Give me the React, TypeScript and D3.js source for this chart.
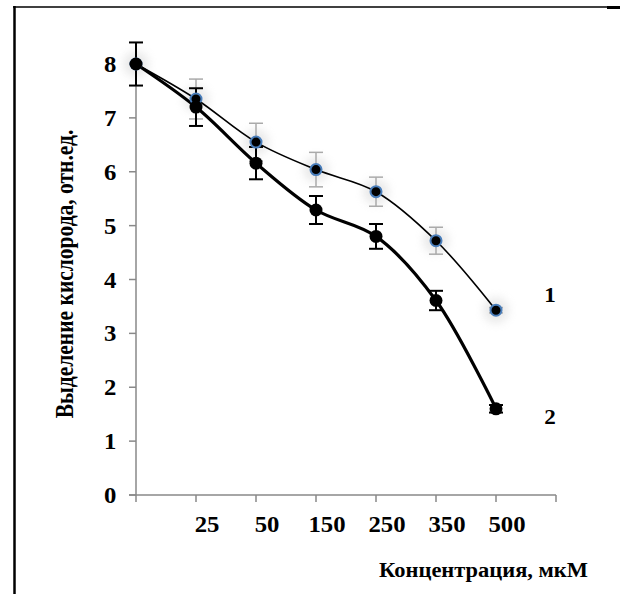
import * as d3 from 'd3';
import React from 'react';

const categories = ['', '25', '50', '150', '250', '350', '500'];
const series1 = [8, 7.35, 6.55, 6.04, 5.63, 4.72, 3.43];
const series1Err = [0, 0.37, 0.35, 0.32, 0.27, 0.25, 0.05];
const series2 = [8, 7.2, 6.16, 5.29, 4.8, 3.61, 1.6];
const series2Err = [0.4, 0.35, 0.3, 0.26, 0.23, 0.18, 0.07];
const yTicks = [0, 1, 2, 3, 4, 5, 6, 7, 8];

export default function App() {
  const width = 620;
  const height = 594;
  const x0 = 136;
  const step = 60;
  const font = '"Liberation Serif", "Times New Roman", serif';

  const xScale = d3.scaleLinear().domain([0, 7]).range([x0, x0 + step * 7]);
  const yScale = d3.scaleLinear().domain([0, 8]).range([495, 64]);

  const line = d3
    .line<number>()
    .x((d, i) => xScale(i))
    .y((d) => yScale(d))
    .curve(d3.curveCatmullRom.alpha(0.5));

  // the source picture is a bit stretched horizontally
  const sx = 1.1;

  return (
    <svg
      width={width}
      height={height}
      style={{ position: 'absolute', left: 0, top: 0, background: '#fff' }}
    >
      <defs>
        <filter id="glow" x="-100%" y="-100%" width="300%" height="300%">
          <feGaussianBlur stdDeviation="4" />
        </filter>
      </defs>
      {/* frame */}
      <line x1={13} y1={7} x2={608} y2={7} stroke="#000" strokeWidth={1.5} />
      <line x1={607} y1={7.5} x2={620} y2={7.5} stroke="#000" strokeWidth={3} />
      <line x1={14.5} y1={6} x2={14.5} y2={594} stroke="#000" strokeWidth={2.5} />

      {/* axes */}
      <g stroke="#898989" strokeWidth={1.5}>
        <line x1={x0} y1={yScale(0)} x2={x0} y2={yScale(8.4)} />
        <line x1={x0 - 7} y1={yScale(0)} x2={xScale(7)} y2={yScale(0)} />
        {yTicks.map((t) => (
          <line key={t} x1={x0 - 7} x2={x0} y1={yScale(t)} y2={yScale(t)} />
        ))}
        {d3.range(0, 8).map((i) => (
          <line key={i} x1={xScale(i)} x2={xScale(i)} y1={yScale(0)} y2={yScale(0) + 7} />
        ))}
      </g>

      {/* tick labels */}
      <g fontFamily={font} fontWeight="bold" fontSize={22.5} fill="#000">
        {yTicks.map((t) => (
          <text
            key={t}
            transform={`translate(116.5, ${yScale(t) + 8}) scale(${sx}, 1)`}
            textAnchor="end"
          >
            {t}
          </text>
        ))}
        {categories.map((c, i) => (
          <text
            key={i}
            transform={`translate(${xScale(i) + 11}, 532) scale(${sx}, 1)`}
            textAnchor="middle"
          >
            {c}
          </text>
        ))}
        <text
          transform={`translate(73, 274) scale(1.15, 1) rotate(-90)`}
          textAnchor="middle"
          fontSize={21.5}
        >
          Выделение кислорода, отн.ед.
        </text>
        <text
          transform={`translate(588, 577) scale(1.07, 1)`}
          textAnchor="end"
          fontSize={21}
        >
          Концентрация, мкМ
        </text>
        <text transform={`translate(550, 302) scale(${sx}, 1)`} textAnchor="middle" fontSize={21}>1</text>
        <text transform={`translate(550, 424) scale(${sx}, 1)`} textAnchor="middle" fontSize={21}>2</text>
      </g>

      {/* soft glow behind series 1 markers */}
      <g filter="url(#glow)" opacity={0.3}>
        {series1.map((v, i) => (
          <circle key={i} cx={xScale(i)} cy={yScale(v)} r={13} fill="#bbb" />
        ))}
      </g>

      {/* series 1 error bars */}
      <g stroke="#aaa" strokeWidth={1.5}>
        {series1.map((v, i) =>
          series1Err[i] > 0 ? (
            <g key={i}>
              <line x1={xScale(i)} x2={xScale(i)} y1={yScale(v + series1Err[i])} y2={yScale(v - series1Err[i])} />
              <line x1={xScale(i) - 7} x2={xScale(i) + 7} y1={yScale(v + series1Err[i])} y2={yScale(v + series1Err[i])} />
              <line x1={xScale(i) - 7} x2={xScale(i) + 7} y1={yScale(v - series1Err[i])} y2={yScale(v - series1Err[i])} />
            </g>
          ) : null
        )}
      </g>

      {/* series 2 error bars */}
      <g stroke="#000" strokeWidth={2}>
        {series2.map((v, i) => (
          <g key={i}>
            <line x1={xScale(i)} x2={xScale(i)} y1={yScale(v + series2Err[i])} y2={yScale(v - series2Err[i])} />
            <line x1={xScale(i) - 7} x2={xScale(i) + 7} y1={yScale(v + series2Err[i])} y2={yScale(v + series2Err[i])} />
            <line x1={xScale(i) - 7} x2={xScale(i) + 7} y1={yScale(v - series2Err[i])} y2={yScale(v - series2Err[i])} />
          </g>
        ))}
      </g>

      {/* lines */}
      <path d={line(series1) ?? ''} fill="none" stroke="#000" strokeWidth={1.6} />
      <path d={line(series2) ?? ''} fill="none" stroke="#000" strokeWidth={3.2} />

      {/* markers */}
      {series1.map((v, i) => (
        <circle key={'a' + i} cx={xScale(i)} cy={yScale(v)} r={5.5} fill="#000" stroke="#4a7ebb" strokeWidth={2} />
      ))}
      {series2.map((v, i) => (
        <circle key={'b' + i} cx={xScale(i)} cy={yScale(v)} r={6.5} fill="#000" />
      ))}
    </svg>
  );
}
